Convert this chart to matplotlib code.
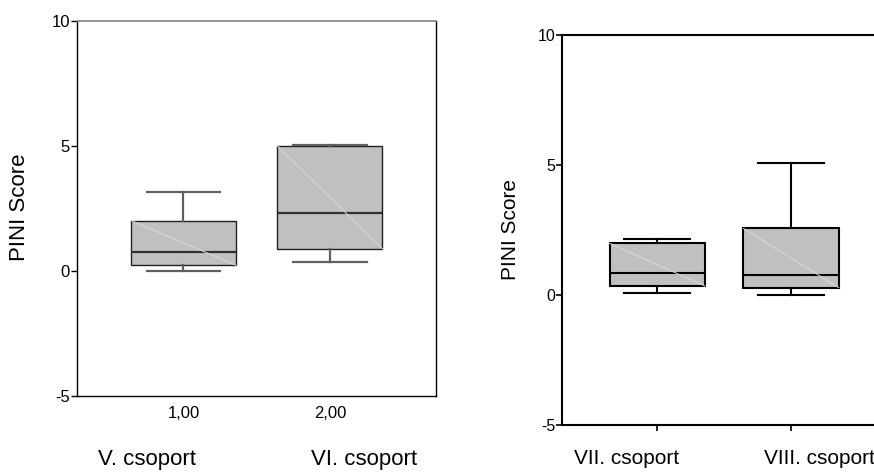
import matplotlib
matplotlib.use("Agg")
import matplotlib.pyplot as plt

plt.rcParams['font.family'] = ['Liberation Sans', 'DejaVu Sans']
plt.rcParams['axes.unicode_minus'] = False

# ---- data ----
left_groups = ["V. csoport", "VI. csoport"]
left_ticklabels = ["1,00", "2,00"]
left_whislo = [0.0, 0.36]
left_q1 = [0.23, 0.89]
left_med = [0.76, 2.31]
left_q3 = [2.02, 5.0]
left_whishi = [3.16, 5.06]

right_groups = ["VII. csoport", "VIII. csoport"]
right_whislo = [0.07, 0.0]
right_q1 = [0.35, 0.29]
right_med = [0.83, 0.76]
right_q3 = [1.99, 2.56]
right_whishi = [2.15, 5.09]

yticks = [-5, 0, 5, 10]
yticklabels = ["-5", "0", "5", "10"]

W, H = 874, 472
fig = plt.figure(figsize=(W / 100, H / 100), dpi=100)


def px_axes(x0, y0, x1, y1):
    return fig.add_axes([x0 / W, 1 - y1 / H, (x1 - x0) / W, (y1 - y0) / H])


def draw_boxes(ax, whislo, q1, med, q3, whishi, width, capw, box_ec, box_lw,
               whisk_c, whisk_lw, med_c, med_lw):
    stats = []
    for i in range(len(med)):
        stats.append(dict(whislo=whislo[i], q1=q1[i], med=med[i], q3=q3[i],
                          whishi=whishi[i], fliers=[]))
    pos = list(range(1, len(med) + 1))
    ax.bxp(stats, positions=pos, widths=width, capwidths=capw,
           patch_artist=True, showfliers=False,
           boxprops=dict(facecolor="#c0c0c0", edgecolor=box_ec, linewidth=box_lw),
           whiskerprops=dict(color=whisk_c, linewidth=whisk_lw),
           capprops=dict(color=whisk_c, linewidth=whisk_lw),
           medianprops=dict(color=med_c, linewidth=med_lw),
           manage_ticks=False)
    for i, p in enumerate(pos):
        ax.plot([p - width / 2, p + width / 2], [q3[i], q1[i]],
                color="#dcdcdc", linewidth=0.7, zorder=3)


# ---- left panel ----
axL = px_axes(77, 21, 436, 396)
draw_boxes(axL, left_whislo, left_q1, left_med, left_q3, left_whishi,
           0.717, 0.5, "#202020", 1.0, "#606060", 1.6, "#303030", 1.6)
axL.set_xlim(0.273, 2.724)
axL.set_ylim(-5, 10)
axL.set_yticks(yticks)
axL.set_yticklabels(yticklabels, fontsize=12)
axL.set_xticks([1, 2])
axL.set_xticklabels(left_ticklabels, fontsize=12)
axL.tick_params(axis='x', length=0, pad=7)
axL.tick_params(axis='y', length=4, width=1, pad=1)
for s in ['left', 'bottom', 'right']:
    axL.spines[s].set_color('black')
    axL.spines[s].set_linewidth(1.0)
axL.spines['top'].set_color('#808080')
axL.spines['top'].set_linewidth(1.2)

fig.text(20 / W, 1 - 207 / H, "PINI Score", rotation=90, ha='center',
         va='center', fontsize=16)
fig.text(146.7 / W, 1 - 460 / H, left_groups[0], ha='center', va='center', fontsize=16)
fig.text(364 / W, 1 - 460 / H, left_groups[1], ha='center', va='center', fontsize=16)

# ---- right panel ----
axR = px_axes(562.3, 34.7, 886, 425.3)
draw_boxes(axR, right_whislo, right_q1, right_med, right_q3, right_whishi,
           0.711, 0.49, "black", 1.5, "black", 1.5, "black", 1.5)
axR.set_xlim(0.291, 2.709)
axR.set_ylim(-5, 10)
axR.set_yticks(yticks)
axR.set_yticklabels(yticklabels, fontsize=11.5)
axR.set_xticks([1, 2])
axR.set_xticklabels(["", ""])
axR.tick_params(axis='x', length=4, width=1.2)
axR.tick_params(axis='y', length=4, width=1.2, pad=1)
for s in ['left', 'bottom', 'top']:
    axR.spines[s].set_color('black')
    axR.spines[s].set_linewidth(1.5)
axR.spines['right'].set_visible(False)

fig.text(510 / W, 1 - 230 / H, "PINI Score", rotation=90, ha='center',
         va='center', fontsize=15)
fig.text(626.7 / W, 1 - 458 / H, right_groups[0], ha='center', va='center', fontsize=15)
fig.text(819.7 / W, 1 - 458 / H, right_groups[1], ha='center', va='center', fontsize=15)

fig.savefig("out.png", dpi=100)
